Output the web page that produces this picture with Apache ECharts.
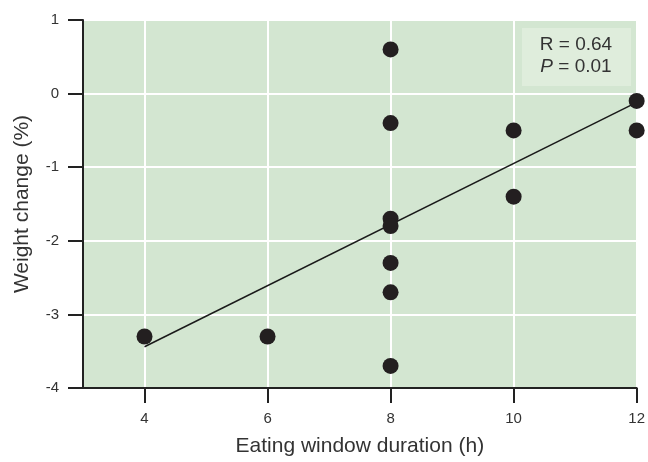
<!DOCTYPE html>
<html><head><meta charset="utf-8">
<script src="https://cdn.jsdelivr.net/npm/echarts@6/dist/echarts.min.js"></script>
<style>html,body{margin:0;padding:0;background:#fff}#c{width:648px;height:462px}</style>
</head><body><div id="c"></div>
<script>
const xTicks = [4, 6, 8, 10, 12];
const yTicks = [-4, -3, -2, -1, 0, 1];
const pointX = [4, 6, 8, 8, 8, 8, 8, 8, 8, 10, 10, 12, 12];
const pointY = [-3.3, -3.3, 0.6, -0.4, -1.7, -1.8, -2.3, -2.7, -3.7, -0.5, -1.4, -0.1, -0.5];
const fitX = [4, 12];
const fitY = [-3.44, -0.12];
const statR = '0.64';
const statP = '0.01';

const chart = echarts.init(document.getElementById('c'));
const font = 'Liberation Sans, Arial, sans-serif';
chart.setOption({
  animation: false,
  grid: {left: 83, right: 9, top: 20, bottom: 72, show: true, backgroundColor: '#d3e6d1', borderWidth: 0},
  xAxis: {
    type: 'value', min: 3, max: 12,
    name: 'Eating window duration (h)', nameLocation: 'middle', nameGap: 48,
    nameTextStyle: {fontFamily: font, fontSize: 21, color: '#333'},
    axisLine: {show: true, onZero: false, lineStyle: {color: '#222', width: 2}},
    axisTick: {show: true, length: 15, customValues: xTicks, lineStyle: {color: '#222', width: 2}},
    axisLabel: {customValues: xTicks, margin: 23, fontFamily: font, fontSize: 15, color: '#333'},
    splitLine: {show: true, lineStyle: {color: '#ffffff', width: 2}}
  },
  yAxis: {
    type: 'value', min: -4, max: 1, interval: 1,
    name: 'Weight change (%)', nameLocation: 'middle', nameGap: 50,
    nameTextStyle: {fontFamily: font, fontSize: 21, color: '#333'},
    axisLine: {show: true, onZero: false, lineStyle: {color: '#222', width: 2}},
    axisTick: {show: true, length: 15, lineStyle: {color: '#222', width: 2}},
    axisLabel: {margin: 24, fontFamily: font, fontSize: 15, color: '#333'},
    splitLine: {show: true, lineStyle: {color: '#ffffff', width: 2}}
  },
  series: [
    {type: 'line', data: fitX.map((x, i) => [x, fitY[i]]), symbol: 'none',
     lineStyle: {color: '#1a1a1a', width: 1.5}, z: 3},
    {type: 'scatter', data: pointX.map((x, i) => [x, pointY[i]]), symbolSize: 16,
     itemStyle: {color: '#231f20', opacity: 1}, z: 4}
  ],
  graphic: [
    {type: 'rect', shape: {x: 522, y: 28, width: 109, height: 58}, style: {fill: '#dfeddc'}, z: 10},
    {type: 'text', x: 576, y: 45, z: 11, style: {text: 'R = ' + statR, font: '19px ' + font, fill: '#333', align: 'center', verticalAlign: 'middle'}},
    {type: 'text', x: 576, y: 67, z: 11, style: {
      text: '{i|P} = ' + statP, font: '19px ' + font, fill: '#333', align: 'center', verticalAlign: 'middle',
      rich: {i: {fontStyle: 'italic', fontFamily: font, fontSize: 19, fill: '#333'}}}}
  ]
});
</script></body></html>
